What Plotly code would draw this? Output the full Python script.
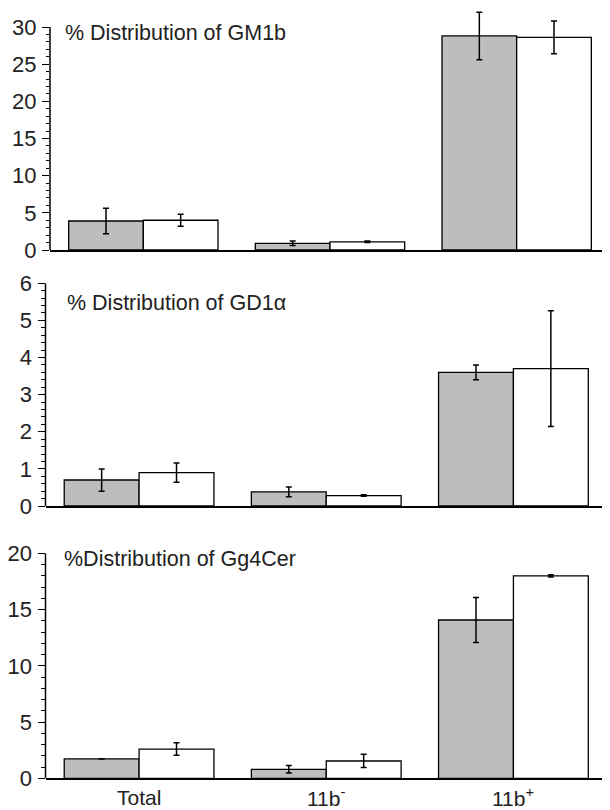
import plotly.graph_objects as go

categories = ["Total", "11b-", "11b+"]
tick_labels = ["Total", "11b<sup>-</sup>", "11b<sup>+</sup>"]

# Panel 1: GM1b
gm1b_gray = [3.9, 0.9, 28.8]
gm1b_gray_err = [1.7, 0.3, 3.2]
gm1b_white = [4.0, 1.1, 28.6]
gm1b_white_err = [0.8, 0.1, 2.2]

# Panel 2: GD1alpha
gd1a_gray = [0.70, 0.38, 3.60]
gd1a_gray_err = [0.30, 0.13, 0.20]
gd1a_white = [0.90, 0.28, 3.70]
gd1a_white_err = [0.26, 0.02, 1.56]

# Panel 3: Gg4Cer
gg4_gray = [1.72, 0.80, 14.07]
gg4_gray_err = [0.0, 0.33, 2.0]
gg4_white = [2.60, 1.54, 18.0]
gg4_white_err = [0.56, 0.59, 0.1]

titles = ["% Distribution of GM1b", "% Distribution of GD1α", "%Distribution of Gg4Cer"]
yaxis_max = [30, 6, 20]          # top tick / end of the drawn axis line
yrange_max = [32.3, 6, 20]       # visible range (room for error bars above the axis top)
ydtick = [5, 1, 5]
yminor = [1, 0.2, 1]

# the page body has an 8px margin, so the figure is drawn 8px in from the corner
OFF = 8
W, H = 610 - OFF, 810 - OFF


def px_x(p):
    return min(1.0, max(0.0, (p - OFF) / W))


def px_y(p):
    return min(1.0, max(0.0, 1 - (p - OFF) / H))


# pixel geometry of each panel in window pixels: (x0, x1, y of top tick, y of zero)
panels = [(50, 610, 27, 250), (45.5, 607, 283.3, 506), (45.5, 607, 553.3, 778.3)]

GRAY = "#bdbdbd"
FONT = "Liberation Sans, Arial, sans-serif"
TXT = "#222"

fig = go.Figure()
data = [
    (gm1b_gray, gm1b_gray_err, gm1b_white, gm1b_white_err),
    (gd1a_gray, gd1a_gray_err, gd1a_white, gd1a_white_err),
    (gg4_gray, gg4_gray_err, gg4_white, gg4_white_err),
]

for i, (g, ge, w, we) in enumerate(data):
    xa = "x" if i == 0 else f"x{i+1}"
    ya = "y" if i == 0 else f"y{i+1}"
    for vals, errs, col in ((g, ge, GRAY), (w, we, "white")):
        fig.add_trace(go.Bar(
            x=categories, y=vals, xaxis=xa, yaxis=ya,
            marker=dict(color=col, line=dict(color="black", width=1.3)),
            error_y=dict(type="data", array=errs, visible=True,
                         color="black", thickness=1.5, width=3),
            showlegend=False, hoverinfo="skip",
        ))

layout = dict(
    width=W, height=H,
    margin=dict(l=0, r=0, t=0, b=0),
    paper_bgcolor="white", plot_bgcolor="white",
    barmode="group", bargap=0.2, bargroupgap=0.0,
    font=dict(family=FONT, size=20, color=TXT),
    showlegend=False,
)

shapes = []
for i, (x0, x1, yt, yb) in enumerate(panels):
    xk = "xaxis" if i == 0 else f"xaxis{i+1}"
    yk = "yaxis" if i == 0 else f"yaxis{i+1}"
    xa = "x" if i == 0 else f"x{i+1}"
    ya = "y" if i == 0 else f"y{i+1}"
    amax, rmax = yaxis_max[i], yrange_max[i]
    ppu = (yb - yt) / amax                  # pixels per unit
    ytop_px = yb - rmax * ppu               # pixel of the range top
    nmaj = int(round(amax / ydtick[i]))
    major = [round(k * ydtick[i], 6) for k in range(nmaj + 1)]
    nmin = int(round(amax / yminor[i]))
    minor = [round(k * yminor[i], 6) for k in range(nmin + 1)]
    minor = [m for m in minor if all(abs(m - M) > 1e-6 for M in major)]
    layout[xk] = dict(
        domain=[px_x(x0), px_x(x1)], anchor=ya,
        type="category", categoryorder="array", categoryarray=categories,
        range=[-0.5, 2.5],
        showline=True, linecolor="black", linewidth=1.5,
        ticks="", showgrid=False, zeroline=False,
        showticklabels=False,
        automargin=False,
    )
    layout[yk] = dict(
        domain=[px_y(yb), px_y(ytop_px)], anchor=xa,
        range=[0, rmax], tickmode="array", tickvals=major,
        showline=False,
        ticks="outside", ticklen=7, tickwidth=1.3, tickcolor="black",
        ticklabelstandoff=1,
        minor=dict(tickmode="array", tickvals=minor, ticks="outside", ticklen=3.5,
                   tickwidth=1, tickcolor="black", showgrid=False),
        showgrid=False, zeroline=False,
        tickfont=dict(size=22, family=FONT, color=TXT),
        automargin=False,
    )
    # y axis line from 0 to the top tick
    shapes.append(dict(type="line", xref="paper", yref=ya,
                       x0=px_x(x0), x1=px_x(x0), y0=0, y1=amax,
                       line=dict(color="black", width=1.5)))

layout["shapes"] = shapes
fig.update_layout(**layout)

title_pos = [(63, 33), (65, 303), (62, 559)]
for t, (px, py) in zip(titles, title_pos):
    fig.add_annotation(
        text=t, x=px_x(px), y=px_y(py), xref="paper", yref="paper",
        xanchor="left", yanchor="middle", showarrow=False,
        font=dict(size=21.5, family=FONT, color=TXT),
    )

# category labels under the bottom panel
for cat, lab in zip(categories, tick_labels):
    fig.add_annotation(
        text=lab, x=cat, y=px_y(797), xref="x3", yref="paper",
        xanchor="center", yanchor="middle", showarrow=False,
        font=dict(size=21, family=FONT, color=TXT),
    )

fig.write_html("out.html")
